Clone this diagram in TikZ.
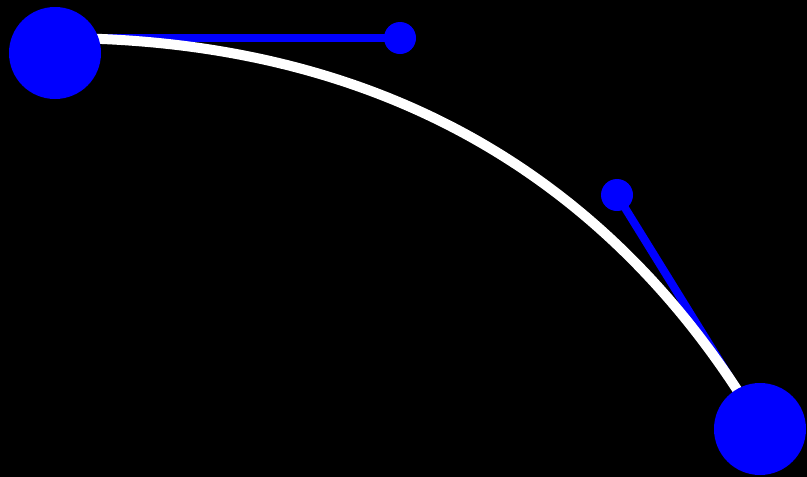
\documentclass[tikz,border=0pt]{standalone}
\usepackage{tikz}
\usetikzlibrary{positioning}

\begin{document}
\begin{tikzpicture}[x=1pt, y=-1pt,
  knot/.style={circle,fill=blue,inner sep=0pt,minimum size=92pt},
  handle/.style={circle,fill=blue,inner sep=0pt,minimum size=32pt},
  arm/.style={draw=blue,line width=8pt},
  curve/.style={draw=white,line width=10pt}]
\fill[black] (0,0) rectangle (807,477);
\useasboundingbox (0,0) rectangle (807,477);
\coordinate (p0) at (55,38);
\coordinate (p1) at (750,410);
\coordinate (c0) at (400,38);
\coordinate (c1) at (617,195);
\draw[arm] (p0) -- (c0);
\draw[arm] (p1) -- (c1);
\draw[curve] (p0) .. controls (c0) and (c1) .. (p1);
\node[knot] (k0) at (55,53) {};
\node[knot] (k1) at (760,429) {};
\node[handle] (h0) at (c0) {};
\node[handle] (h1) at (c1) {};
\end{tikzpicture}
\end{document}
